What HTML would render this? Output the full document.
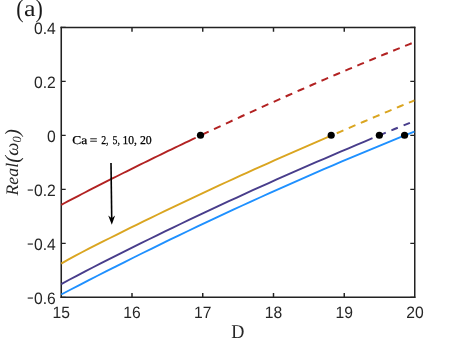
<!DOCTYPE html>
<html><head><meta charset="utf-8"><title>plot</title>
<style>html,body{margin:0;padding:0;background:#fff}body{width:460px;height:346px;position:relative;overflow:hidden;font-family:"Liberation Sans",sans-serif}</style>
</head><body>
<svg width="460" height="346" viewBox="0 0 460 346" style="position:absolute;left:0;top:0;will-change:transform">
<path d="M61.25,26.7 V298" stroke="#222" stroke-width="1.55" fill="none"/>
<path d="M414.75,26.7 V298" stroke="#222" stroke-width="1.5" fill="none"/>
<path d="M60.5,27.45 H415.4" stroke="#222" stroke-width="1.5" fill="none"/>
<path d="M60.5,297.25 H415.4" stroke="#222" stroke-width="1.5" fill="none"/>
<path d="M132.00,297.25 V292.9 M132.00,27.45 V31.8" stroke="#222" stroke-width="1.45"/>
<path d="M202.75,297.25 V292.9 M202.75,27.45 V31.8" stroke="#222" stroke-width="1.45"/>
<path d="M273.50,297.25 V292.9 M273.50,27.45 V31.8" stroke="#222" stroke-width="1.45"/>
<path d="M344.25,297.25 V292.9 M344.25,27.45 V31.8" stroke="#222" stroke-width="1.45"/>
<path d="M61.25,27.45 H65.7 M414.7,27.45 H410.3" stroke="#222" stroke-width="1.3"/>
<path d="M61.25,81.42 H65.7 M414.7,81.42 H410.3" stroke="#222" stroke-width="1.3"/>
<path d="M61.25,135.39 H65.7 M414.7,135.39 H410.3" stroke="#222" stroke-width="1.3"/>
<path d="M61.25,189.36 H65.7 M414.7,189.36 H410.3" stroke="#222" stroke-width="1.3"/>
<path d="M61.25,243.33 H65.7 M414.7,243.33 H410.3" stroke="#222" stroke-width="1.3"/>
<path d="M61.25,297.30 H65.7 M414.7,297.30 H410.3" stroke="#222" stroke-width="1.3"/>
<path d="M61.25,204.83 L64.70,203.00 L68.14,201.18 L71.59,199.38 L75.04,197.58 L78.49,195.79 L81.93,194.01 L85.38,192.23 L88.83,190.46 L92.28,188.70 L95.72,186.94 L99.17,185.18 L102.62,183.43 L106.07,181.69 L109.51,179.95 L112.96,178.21 L116.41,176.48 L119.86,174.75 L123.30,173.02 L126.75,171.30 L130.20,169.59 L133.65,167.87 L137.09,166.17 L140.54,164.46 L143.99,162.76 L147.44,161.07 L150.88,159.38 L154.33,157.69 L157.78,156.01 L161.23,154.33 L164.67,152.65 L168.12,150.98 L171.57,149.32 L175.02,147.65 L178.46,145.99 L181.91,144.34 L185.36,142.69 L188.81,141.04 L192.25,139.40 L195.70,137.76" fill="none" stroke="#b22222" stroke-width="1.9"/>
<path d="M202.05,134.76 L205.35,133.20 L208.65,131.65 M213.99,129.14 L217.29,127.60 L220.59,126.06 M225.94,123.57 L229.24,122.04 L232.54,120.51 M237.88,118.05 L241.18,116.53 L244.48,115.02 M249.83,112.58 L253.13,111.08 L256.43,109.58 M261.77,107.16 L265.07,105.67 L268.37,104.19 M273.71,101.79 L277.01,100.31 L280.31,98.84 M285.66,96.47 L288.96,95.00 L292.26,93.54 M297.60,91.19 L300.90,89.74 L304.20,88.30 M309.55,85.97 L312.85,84.53 L316.15,83.10 M321.49,80.79 L324.79,79.37 L328.09,77.95 M333.43,75.67 L336.73,74.26 L340.03,72.85 M345.38,70.59 L348.68,69.19 L351.98,67.80 M357.32,65.56 L360.62,64.18 L363.92,62.80 M369.27,60.58 L372.57,59.22 L375.87,57.85 M381.21,55.65 L384.51,54.30 L387.81,52.95 M393.15,50.77 L396.45,49.43 L399.75,48.10 M405.10,45.94 L408.40,44.61 L411.70,43.29" fill="none" stroke="#b22222" stroke-width="2.0"/>
<path d="M61.25,263.60 L68.14,259.66 L75.03,255.91 L81.92,252.27 L88.81,248.70 L95.71,245.18 L102.60,241.69 L109.49,238.23 L116.38,234.79 L123.27,231.36 L130.16,227.96 L137.05,224.57 L143.94,221.20 L150.83,217.85 L157.72,214.51 L164.62,211.19 L171.51,207.88 L178.40,204.59 L185.29,201.31 L192.18,198.06 L199.07,194.81 L205.96,191.59 L212.85,188.38 L219.74,185.18 L226.63,182.00 L233.53,178.84 L240.42,175.69 L247.31,172.56 L254.20,169.45 L261.09,166.35 L267.98,163.27 L274.87,160.20 L281.76,157.15 L288.65,154.12 L295.54,151.10 L302.44,148.10 L309.33,145.11 L316.22,142.14 L323.11,139.18 L330.00,136.24" fill="none" stroke="#daa520" stroke-width="1.9"/>
<path d="M336.75,133.29 L340.07,131.84 L343.40,130.40 M348.78,128.07 L352.10,126.64 L355.43,125.20 M360.81,122.90 L364.13,121.48 L367.46,120.06 M372.84,117.77 L376.16,116.36 L379.49,114.96 M384.87,112.70 L388.19,111.30 L391.52,109.91 M396.90,107.67 L400.22,106.29 L403.55,104.91 M408.93,102.69 L411.66,101.56 L414.40,100.44" fill="none" stroke="#daa520" stroke-width="2.0"/>
<path d="M61.25,284.16 L69.23,279.79 L77.21,275.54 L85.19,271.38 L93.17,267.26 L101.15,263.18 L109.13,259.13 L117.12,255.10 L125.10,251.11 L133.08,247.13 L141.06,243.18 L149.04,239.25 L157.02,235.34 L165.00,231.46 L172.98,227.60 L180.96,223.76 L188.94,219.94 L196.92,216.15 L204.90,212.38 L212.88,208.63 L220.87,204.90 L228.85,201.20 L236.83,197.52 L244.81,193.86 L252.79,190.23 L260.77,186.61 L268.75,183.02 L276.73,179.46 L284.71,175.91 L292.69,172.39 L300.67,168.89 L308.65,165.41 L316.63,161.96 L324.62,158.53 L332.60,155.10 L340.58,151.67 L348.56,148.26 L356.54,144.88 L364.52,141.51 L372.50,138.17" fill="none" stroke="#483d8b" stroke-width="1.9"/>
<path d="M379.00,135.47 L382.40,134.06 L385.80,132.66 M391.40,130.35 L394.60,129.04 L397.80,127.73 M403.60,125.37 L406.75,124.09 L409.90,122.82" fill="none" stroke="#483d8b" stroke-width="2.0"/>
<path d="M61.25,294.48 L70.31,289.76 L79.36,285.07 L88.42,280.40 L97.47,275.77 L106.53,271.16 L115.58,266.59 L124.64,262.04 L133.69,257.52 L142.75,253.02 L151.80,248.56 L160.86,244.13 L169.91,239.72 L178.97,235.34 L188.02,231.00 L197.08,226.68 L206.13,222.38 L215.19,218.12 L224.24,213.89 L233.30,209.68 L242.35,205.51 L251.41,201.36 L260.46,197.24 L269.52,193.15 L278.57,189.09 L287.63,185.05 L296.68,181.05 L305.74,177.07 L314.79,173.12 L323.85,169.20 L332.90,165.31 L341.96,161.45 L351.01,157.62 L360.07,153.81 L369.12,150.04 L378.18,146.29 L387.23,142.57 L396.29,138.88 L405.34,135.22 L414.40,131.59" fill="none" stroke="#1e90ff" stroke-width="1.9"/>
<circle cx="200.5" cy="135.25" r="3.6" fill="#000"/>
<circle cx="331.2" cy="135.25" r="3.6" fill="#000"/>
<circle cx="379.35" cy="135.25" r="3.6" fill="#000"/>
<circle cx="404.55" cy="135.25" r="3.6" fill="#000"/>
<path d="M111.0,163.1 L111.72,219" stroke="#000" stroke-width="1.6" fill="none"/>
<path d="M111.8,224.8 L108.2,215.6 L111.7,218.2 L115.1,215.5 Z" fill="#000"/>
<text transform="translate(61.25,318.2) scale(0.95,1)" text-anchor="middle" style="font-family:'Liberation Sans',sans-serif;font-size:16.5px;fill:#262626;text-rendering:geometricPrecision">15</text>
<text transform="translate(132.00,318.2) scale(0.95,1)" text-anchor="middle" style="font-family:'Liberation Sans',sans-serif;font-size:16.5px;fill:#262626;text-rendering:geometricPrecision">16</text>
<text transform="translate(202.75,318.2) scale(0.95,1)" text-anchor="middle" style="font-family:'Liberation Sans',sans-serif;font-size:16.5px;fill:#262626;text-rendering:geometricPrecision">17</text>
<text transform="translate(273.50,318.2) scale(0.95,1)" text-anchor="middle" style="font-family:'Liberation Sans',sans-serif;font-size:16.5px;fill:#262626;text-rendering:geometricPrecision">18</text>
<text transform="translate(344.25,318.2) scale(0.95,1)" text-anchor="middle" style="font-family:'Liberation Sans',sans-serif;font-size:16.5px;fill:#262626;text-rendering:geometricPrecision">19</text>
<text transform="translate(415.00,318.2) scale(0.95,1)" text-anchor="middle" style="font-family:'Liberation Sans',sans-serif;font-size:16.5px;fill:#262626;text-rendering:geometricPrecision">20</text>
<text transform="translate(55.7,34.15) scale(0.95,1)" text-anchor="end" style="font-family:'Liberation Sans',sans-serif;font-size:16.5px;fill:#262626;text-rendering:geometricPrecision">0.4</text>
<text transform="translate(55.7,88.12) scale(0.95,1)" text-anchor="end" style="font-family:'Liberation Sans',sans-serif;font-size:16.5px;fill:#262626;text-rendering:geometricPrecision">0.2</text>
<text transform="translate(55.7,142.09) scale(0.95,1)" text-anchor="end" style="font-family:'Liberation Sans',sans-serif;font-size:16.5px;fill:#262626;text-rendering:geometricPrecision">0</text>
<text transform="translate(55.7,196.06) scale(0.95,1)" text-anchor="end" style="font-family:'Liberation Sans',sans-serif;font-size:16.5px;fill:#262626;text-rendering:geometricPrecision">0.2</text>
<text transform="translate(26.7,194.36) scale(1.3,0.9)" style="font-family:'Liberation Sans',sans-serif;font-size:16.5px;fill:#262626;text-rendering:geometricPrecision">-</text>
<text transform="translate(55.7,250.03) scale(0.95,1)" text-anchor="end" style="font-family:'Liberation Sans',sans-serif;font-size:16.5px;fill:#262626;text-rendering:geometricPrecision">0.4</text>
<text transform="translate(26.7,248.33) scale(1.3,0.9)" style="font-family:'Liberation Sans',sans-serif;font-size:16.5px;fill:#262626;text-rendering:geometricPrecision">-</text>
<text transform="translate(55.7,304.00) scale(0.95,1)" text-anchor="end" style="font-family:'Liberation Sans',sans-serif;font-size:16.5px;fill:#262626;text-rendering:geometricPrecision">0.6</text>
<text transform="translate(26.7,302.30) scale(1.3,0.9)" style="font-family:'Liberation Sans',sans-serif;font-size:16.5px;fill:#262626;text-rendering:geometricPrecision">-</text>
<text transform="translate(237.9,337.6) scale(0.93,1)" text-anchor="middle" style="font-family:'Liberation Serif',serif;font-size:19.6px;fill:#262626;text-rendering:geometricPrecision">D</text>
<text transform="translate(16.3,16.7) scale(1,1.17)" style="font-family:'Liberation Serif',serif;fill:#1a1a1a;text-rendering:geometricPrecision;font-size:22px">(</text>
<text transform="translate(24.0,15.8) scale(1.13,1)" style="font-family:'Liberation Serif',serif;fill:#1a1a1a;text-rendering:geometricPrecision;font-size:23px">a</text>
<text transform="translate(35.6,16.7) scale(1,1.17)" style="font-family:'Liberation Serif',serif;fill:#1a1a1a;text-rendering:geometricPrecision;font-size:22px">)</text>
<text x="72.3" y="144.3" textLength="15.0" lengthAdjust="spacingAndGlyphs" style="font-family:'Liberation Serif',serif;font-size:12px;fill:#000;stroke:#000;stroke-width:0.25px;text-rendering:geometricPrecision">Ca</text>
<text x="89.7" y="144.3" textLength="7.6" lengthAdjust="spacingAndGlyphs" style="font-family:'Liberation Serif',serif;font-size:12px;fill:#000;stroke:#000;stroke-width:0.25px;text-rendering:geometricPrecision">=</text>
<text x="101.2" y="144.3" textLength="7.4" lengthAdjust="spacingAndGlyphs" style="font-family:'Liberation Serif',serif;font-size:12px;fill:#000;stroke:#000;stroke-width:0.25px;text-rendering:geometricPrecision">2,</text>
<text x="112.5" y="144.3" textLength="7.4" lengthAdjust="spacingAndGlyphs" style="font-family:'Liberation Serif',serif;font-size:12px;fill:#000;stroke:#000;stroke-width:0.25px;text-rendering:geometricPrecision">5,</text>
<text x="122.6" y="144.3" textLength="14.4" lengthAdjust="spacingAndGlyphs" style="font-family:'Liberation Serif',serif;font-size:12px;fill:#000;stroke:#000;stroke-width:0.25px;text-rendering:geometricPrecision">10,</text>
<text x="139.9" y="144.3" textLength="11.8" lengthAdjust="spacingAndGlyphs" style="font-family:'Liberation Serif',serif;font-size:12px;fill:#000;stroke:#000;stroke-width:0.25px;text-rendering:geometricPrecision">20</text>
<text transform="translate(17.8,195.6) rotate(-90)" style="font-family:'Liberation Serif',serif;font-size:17.6px;font-style:italic;fill:#262626;letter-spacing:0.15px;text-rendering:geometricPrecision">Real<tspan dy="1.2" font-size="20.5">(</tspan><tspan dy="-1.2" font-size="18.6">ω</tspan><tspan dy="3.4" font-size="12.5">0</tspan><tspan dy="-2.2" font-size="20.5">)</tspan></text>
</svg>
</body></html>
